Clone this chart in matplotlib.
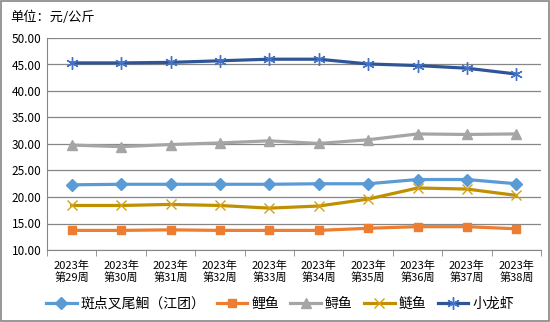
import numpy as np
import matplotlib
matplotlib.use('Agg')
import matplotlib.pyplot as plt

plt.rcParams['font.family'] = ['Noto Sans CJK SC', 'DejaVu Sans']

weeks = ['2023年\n第29周', '2023年\n第30周', '2023年\n第31周', '2023年\n第32周', '2023年\n第33周',
         '2023年\n第34周', '2023年\n第35周', '2023年\n第36周', '2023年\n第37周', '2023年\n第38周']
channel_catfish = [22.3, 22.4, 22.4, 22.4, 22.4, 22.5, 22.5, 23.3, 23.3, 22.5]
carp = [13.7, 13.7, 13.8, 13.7, 13.7, 13.7, 14.1, 14.4, 14.4, 14.0]
sturgeon = [29.8, 29.5, 29.9, 30.2, 30.6, 30.1, 30.8, 31.9, 31.8, 31.9]
silver_carp = [18.4, 18.4, 18.6, 18.4, 17.9, 18.3, 19.6, 21.7, 21.5, 20.3]
crayfish = [45.3, 45.3, 45.4, 45.7, 46.0, 46.0, 45.1, 44.8, 44.3, 43.2]

fig = plt.figure(figsize=(5.5, 3.22), dpi=100)
fig.patches.append(plt.Rectangle((0.001, 0.002), 0.997, 0.995, transform=fig.transFigure,
                                 fill=False, edgecolor='#868686', linewidth=1.2))
ax = fig.add_axes([47/550, 1 - 250/322, (541 - 47)/550, (250 - 38)/322])

x = np.arange(len(weeks))
series = [
    ('斑点叉尾鮰（江团）', channel_catfish, '#5B9BD5', 'D', '#5B9BD5', 6),
    ('鲤鱼', carp, '#ED7D31', 's', '#ED7D31', 6),
    ('鲟鱼', sturgeon, '#A5A5A5', '^', '#A5A5A5', 7),
    ('鲢鱼', silver_carp, '#BF9000', 'x', '#D4A017', 7),
    ('小龙虾', crayfish, '#2F5597', (6, 2, 0), '#4472C4', 9),
]
for name, vals, c, m, mc, ms in series:
    ax.plot(x, vals, color=c, linewidth=2.3, marker=m, markersize=ms,
            markerfacecolor=mc, markeredgecolor=mc, markeredgewidth=1.0, label=name)

ax.set_xlim(-0.5, len(weeks) - 0.5)
ax.set_ylim(10, 50)
ax.set_yticks(np.arange(10, 51, 5))
ax.set_yticklabels(['%.2f' % v for v in np.arange(10, 51, 5)], fontsize=8.5)
ax.set_xticks(x)
ax.set_xticklabels(weeks, fontsize=8, linespacing=1.1)
ax.set_xticks(np.arange(-0.5, len(weeks)), minor=True)
ax.tick_params(axis='x', which='major', length=0, pad=8)
ax.tick_params(axis='x', which='minor', length=4, color='#868686')
ax.tick_params(axis='y', length=0, pad=4)
ax.grid(axis='y', color='#868686', linewidth=0.9)
ax.set_axisbelow(True)
for s in ['top', 'right']:
    ax.spines[s].set_visible(False)
for s in ['left', 'bottom']:
    ax.spines[s].set_color('#868686')

fig.text(10/550, 1 - 17/322, '单位：元/公斤', fontsize=9.5, va='center', ha='left')
fig.legend(loc='center', bbox_to_anchor=(280/550, 1 - 304/322), ncol=5, frameon=False,
           fontsize=10, handlelength=2.2, columnspacing=0.8, handletextpad=0.3)

fig.savefig('out.png', dpi=100)
